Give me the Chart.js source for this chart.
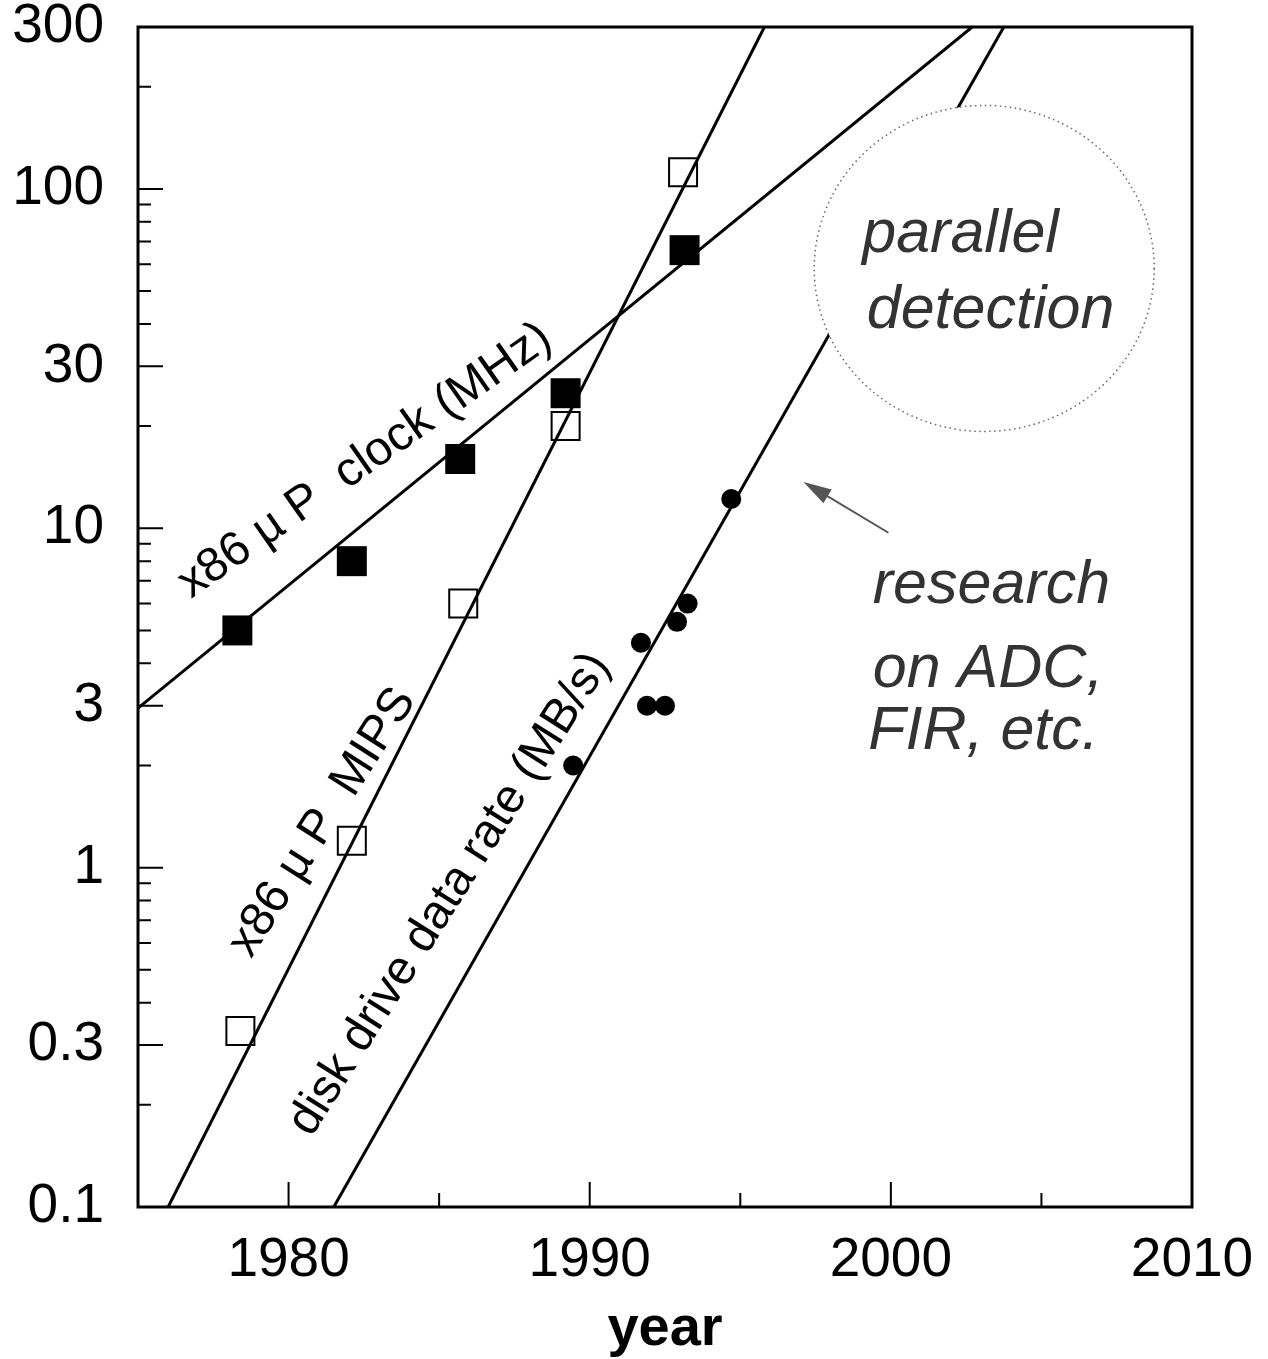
<!DOCTYPE html>
<html lang="en">
<head>
<meta charset="UTF-8">
<title>x86 clock, MIPS and disk data rate by year</title>
<script src="https://cdn.jsdelivr.net/npm/chart.js@4.4.0/dist/chart.umd.min.js"></script>
<style>
  body { margin: 0; background: #fff; }
  #wrap { width: 1268px; height: 1359px; }
</style>
</head>
<body>
<div id="wrap"><canvas id="myChart" width="1268" height="1359"></canvas></div>
<script>
// measured points
const clockYears = [1978.3, 1982.1, 1985.7, 1989.2, 1993.15];
const clockMHz = [5, 8, 16, 25, 66];
const mipsYears = [1978.4, 1982.1, 1985.8, 1989.2, 1993.1];
const mipsValues = [0.33, 1.2, 6, 20, 112];
const diskYears = [1989.45, 1991.7, 1991.9, 1992.5, 1992.9, 1993.25, 1994.7];
const diskRates = [2.0, 4.6, 3.0, 3.0, 5.3, 6.0, 12.2];

// fitted trend lines (end points)
const clockFitYears = [1975, 2002.7];
const clockFitValues = [2.95, 300];
const mipsFitYears = [1976.0, 1995.8];
const mipsFitValues = [0.1, 300];
const diskFitYears = [1981.5, 2003.75];
const diskFitValues = [0.1, 300];

// axes
const xTicks = [1980, 1990, 2000, 2010];
const xMinorTicks = [1985, 1995, 2005];
const yTicks = [0.1, 0.3, 1, 3, 10, 30, 100, 300];
const yMinorTicks = [0.2, 0.4, 0.5, 0.6, 0.7, 0.8, 0.9, 2, 4, 5, 6, 7, 8, 9,
                     20, 40, 50, 60, 70, 80, 90, 200];

const FONT = '"Liberation Sans", Arial, Helvetica, sans-serif';
Chart.defaults.font.family = FONT;
Chart.defaults.color = '#000';

function pointsOf(xs, ys) {
    return xs.map((x, i) => ({ x: x, y: ys[i] }));
}

// ticks pointing inward, frame, circle, texts and arrow
const decorations = {
    id: 'decorations',
    afterDatasetsDraw(chart) {
        const ctx = chart.ctx;
        const xs = chart.scales.x, ys = chart.scales.y;
        const px = v => xs.getPixelForValue(v);
        const py = v => ys.getPixelForValue(v);
        ctx.save();

        // "parallel detection" bubble (covers the disk line)
        const cx = px(2003.1), cy = py(58.3);
        ctx.beginPath();
        ctx.ellipse(cx, cy, 170, 163, 0, 0, Math.PI * 2);
        ctx.fillStyle = '#fff';
        ctx.fill();
        ctx.setLineDash([1.5, 3.5]);
        ctx.lineWidth = 1.5;
        ctx.strokeStyle = '#666';
        ctx.stroke();
        ctx.setLineDash([]);

        ctx.fillStyle = '#333';
        ctx.font = 'italic 61px ' + FONT;
        ctx.textAlign = 'left';
        ctx.textBaseline = 'alphabetic';
        ctx.fillText('parallel', px(1999.05), py(65.2));
        ctx.fillText('detection', px(1999.2), py(38.9));

        ctx.fillText('research', px(1999.4), py(6.04));
        ctx.fillText('on ADC,', px(1999.4), py(3.40));
        ctx.fillText('FIR, etc.', px(1999.25), py(2.23));

        // arrow
        const ax1 = px(1999.92), ay1 = py(9.7);
        const ax2 = px(1997.1), ay2 = py(13.7);
        const ang = Math.atan2(ay2 - ay1, ax2 - ax1);
        ctx.strokeStyle = '#555';
        ctx.fillStyle = '#555';
        ctx.lineWidth = 2;
        ctx.beginPath();
        ctx.moveTo(ax1, ay1);
        ctx.lineTo(ax2 - 20 * Math.cos(ang), ay2 - 20 * Math.sin(ang));
        ctx.stroke();
        ctx.beginPath();
        ctx.moveTo(ax2, ay2);
        ctx.lineTo(ax2 - 28 * Math.cos(ang) + 8 * Math.sin(ang), ay2 - 28 * Math.sin(ang) - 8 * Math.cos(ang));
        ctx.lineTo(ax2 - 28 * Math.cos(ang) - 8 * Math.sin(ang), ay2 - 28 * Math.sin(ang) + 8 * Math.cos(ang));
        ctx.closePath();
        ctx.fill();

        // labels along the trend lines
        ctx.fillStyle = '#000';
        ctx.font = '48px ' + FONT;
        ctx.textAlign = 'center';
        ctx.textBaseline = 'middle';
        const lineLabel = (text, deg, x, y) => {
            ctx.save();
            ctx.translate(px(x), py(y));
            ctx.rotate(-deg * Math.PI / 180);
            ctx.fillText(text, 0, 0);
            ctx.restore();
        };
        lineLabel('x86 \u00b5 P  clock (MHz)', 35, 1982.54, 15.8);
        lineLabel('x86 \u00b5 P  MIPS', 57.5, 1981.13, 1.36);
        lineLabel('disk drive data rate (MB/s)', 57.7, 1985.35, 0.835);

        ctx.restore();
    },
    afterDraw(chart) {
        const ctx = chart.ctx;
        const a = chart.chartArea;
        const xs = chart.scales.x, ys = chart.scales.y;
        ctx.save();
        ctx.strokeStyle = '#000';
        ctx.lineWidth = 2;
        ctx.beginPath();
        yTicks.forEach(v => {
            const y = ys.getPixelForValue(v);
            ctx.moveTo(a.left, y); ctx.lineTo(a.left + 25, y);
        });
        yMinorTicks.forEach(v => {
            const y = ys.getPixelForValue(v);
            ctx.moveTo(a.left, y); ctx.lineTo(a.left + 13, y);
        });
        xTicks.forEach(v => {
            const x = xs.getPixelForValue(v);
            ctx.moveTo(x, a.bottom); ctx.lineTo(x, a.bottom - 25);
        });
        xMinorTicks.forEach(v => {
            const x = xs.getPixelForValue(v);
            ctx.moveTo(x, a.bottom); ctx.lineTo(x, a.bottom - 14);
        });
        ctx.stroke();
        ctx.lineWidth = 3;
        ctx.strokeRect(a.left, a.top, a.right - a.left, a.bottom - a.top);
        ctx.restore();
    }
};

const ctx = document.getElementById('myChart').getContext('2d');
const chart = new Chart(ctx, {
    type: 'scatter',
    data: {
        datasets: [
            {
                label: 'x86 \u00b5P clock (MHz)',
                data: pointsOf(clockYears, clockMHz),
                pointStyle: 'rect',
                pointRadius: 21.2,
                backgroundColor: '#000',
                borderColor: '#000',
                borderWidth: 0,
                order: 1
            },
            {
                label: 'x86 \u00b5P MIPS',
                data: pointsOf(mipsYears, mipsValues),
                pointStyle: 'rect',
                pointRadius: 19.8,
                backgroundColor: 'rgba(0,0,0,0)',
                borderColor: '#000',
                borderWidth: 2,
                order: 1
            },
            {
                label: 'disk drive data rate (MB/s)',
                data: pointsOf(diskYears, diskRates),
                pointStyle: 'circle',
                pointRadius: 10,
                backgroundColor: '#000',
                borderColor: '#000',
                borderWidth: 0,
                order: 1
            },
            {
                label: 'clock trend',
                data: pointsOf(clockFitYears, clockFitValues),
                showLine: true,
                pointRadius: 0,
                borderColor: '#000',
                borderWidth: 3,
                order: 2
            },
            {
                label: 'MIPS trend',
                data: pointsOf(mipsFitYears, mipsFitValues),
                showLine: true,
                pointRadius: 0,
                borderColor: '#000',
                borderWidth: 3,
                order: 2
            },
            {
                label: 'disk trend',
                data: pointsOf(diskFitYears, diskFitValues),
                showLine: true,
                pointRadius: 0,
                borderColor: '#000',
                borderWidth: 3,
                order: 2
            }
        ]
    },
    options: {
        responsive: false,
        animation: false,
        events: [],
        layout: { padding: { top: 27, right: 76, bottom: 0, left: 0 } },
        plugins: {
            legend: { display: false },
            tooltip: { enabled: false }
        },
        scales: {
            x: {
                type: 'linear',
                min: 1975,
                max: 2010,
                grid: { display: false, drawTicks: false },
                border: { display: false },
                afterBuildTicks: s => { s.ticks = xTicks.map(v => ({ value: v })); },
                afterFit: s => {
                    s.height = 152;
                    s.paddingLeft = 0;
                    s.paddingRight = 0;
                },
                ticks: {
                    autoSkip: false,
                    maxRotation: 0,
                    padding: 26,
                    font: { size: 55, lineHeight: 1 },
                    color: '#000',
                    callback: v => String(v)
                },
                title: {
                    display: true,
                    text: 'year',
                    color: '#000',
                    font: { size: 56, weight: 'bold', lineHeight: 1 },
                    padding: { top: 0, bottom: 1 }
                }
            },
            y: {
                type: 'logarithmic',
                min: 0.1,
                max: 300,
                grid: { display: false, drawTicks: false },
                border: { display: false },
                afterBuildTicks: s => { s.ticks = yTicks.map(v => ({ value: v })); },
                afterFit: s => {
                    s.width = 138;
                    s.paddingTop = 0;
                    s.paddingBottom = 0;
                },
                ticks: {
                    autoSkip: false,
                    padding: 34,
                    font: { size: 55, lineHeight: 0.8 },
                    color: '#000',
                    callback: v => String(v)
                }
            }
        }
    },
    plugins: [decorations]
});
</script>
</body>
</html>
